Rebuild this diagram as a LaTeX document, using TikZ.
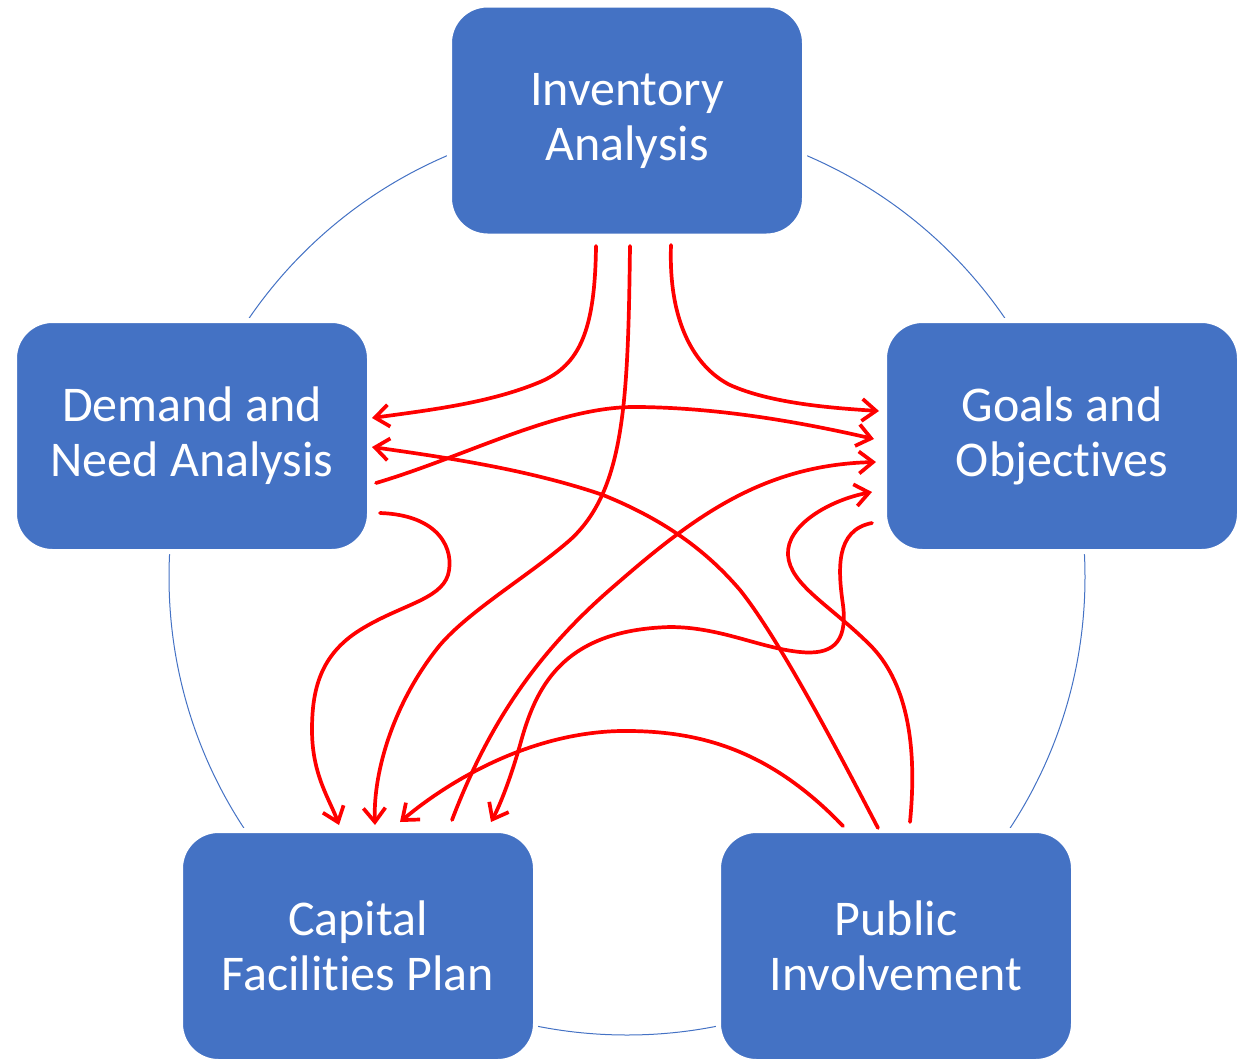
\documentclass[tikz,border=0pt]{standalone}
\usepackage{fontspec}
\setmainfont{Carlito}[RawFeature={-liga;-clig;-calt;-dlig}]
\usetikzlibrary{arrows.meta}
\definecolor{boxblue}{HTML}{4472C4}
\newcommand{\nolig}{\kern0pt }
\begin{document}
\begin{tikzpicture}[x=1pt,y=-1pt,
  stagebox/.style={rectangle, rounded corners=38pt, fill=boxblue, draw=white, line width=5pt,
    minimum width=355pt, minimum height=231pt, text=white, align=center,
    font=\fontsize{50}{55}\selectfont, inner sep=0pt},
  flow/.style={draw=red, line width=3.7pt, line cap=round, line join=round},
  tipflow/.style={flow, -{Straight Barb[length=14pt,width=22pt]}},
  ring/.style={draw=boxblue, line width=1pt}]
\useasboundingbox (0,0) rectangle (1245,1058);
\draw[ring] (627,577) circle[radius=458pt];
\node[stagebox] (inv) at (627,120.5) {Inventory\\Analysis};
\node[stagebox] (dem) at (192,436) {Demand and\\Need Analysis};
\node[stagebox] (goal) at (1062,436) {Goals and\\Objec\nolig tives};
\node[stagebox] (cap) at (358,946) {Capital\\Facili\nolig ties Plan};
\node[stagebox] (pub) at (896,946) {Public\\Involvement};
% connector end points
\coordinate (a0) at (596,246); \coordinate (a1) at (372,418);
\coordinate (b0) at (630,246); \coordinate (b1) at (375,825);
\coordinate (c0) at (671,245); \coordinate (c1) at (879,411);
\coordinate (d0) at (376,483); \coordinate (d1) at (874,439);
\coordinate (e0) at (878,828); \coordinate (e1) at (372,447);
\coordinate (f0) at (452,820); \coordinate (f1) at (876,462);
\coordinate (g0) at (843,826); \coordinate (g1) at (400,822);
\coordinate (h0) at (910,822); \coordinate (h1) at (872,492);
\coordinate (i0) at (872,523); \coordinate (i1) at (491,822);
\coordinate (j0) at (380,513); \coordinate (j1) at (339,825);
% Inventory -> Demand
\draw[tipflow] (a0) .. controls (595,330) and (580,365) .. (540,382)
  .. controls (490,403) and (430,410) .. (a1);
% Inventory -> Capital
\draw[tipflow] (b0) .. controls (628,400) and (625,490) .. (570,540)
  .. controls (530,575) and (470,610) .. (440,645)
  .. controls (395,700) and (373,770) .. (b1);
% Inventory -> Goals
\draw[tipflow] (c0) .. controls (668,330) and (700,370) .. (730,385)
  .. controls (770,403) and (830,408) .. (c1);
% Demand -> Goals
\draw[tipflow] (d0) .. controls (470,455) and (560,405) .. (640,407)
  .. controls (720,408) and (800,422) .. (d1);
% Public -> Demand
\draw[tipflow] (e0) .. controls (840,755) and (780,640) .. (740,590)
  .. controls (710,555) and (670,522) .. (603,495)
  .. controls (530,470) and (450,458) .. (e1);
% Capital -> Goals
\draw[tipflow] (f0) .. controls (490,720) and (540,650) .. (613,587)
  .. controls (690,520) and (760,465) .. (f1);
% Public -> Capital
\draw[tipflow] (g0) .. controls (770,750) and (700,730) .. (620,731)
  .. controls (530,733) and (450,780) .. (g1);
% Public -> Goals
\draw[tipflow] (h0) .. controls (918,740) and (905,680) .. (870,645)
  .. controls (830,605) and (790,585) .. (788,555)
  .. controls (786,525) and (830,500) .. (h1);
% Goals -> Capital
\draw[tipflow] (i0) .. controls (835,530) and (838,570) .. (843,605)
  .. controls (848,645) and (830,655) .. (800,652)
  .. controls (760,648) and (720,627) .. (670,627)
  .. controls (560,630) and (535,690) .. (520,745)
  .. controls (510,780) and (500,805) .. (i1);
% Demand -> Capital
\draw[tipflow] (j0) .. controls (440,515) and (455,550) .. (448,575)
  .. controls (440,600) and (400,605) .. (360,630)
  .. controls (320,655) and (312,690) .. (312,730)
  .. controls (312,775) and (330,800) .. (j1);
\end{tikzpicture}
\end{document}
